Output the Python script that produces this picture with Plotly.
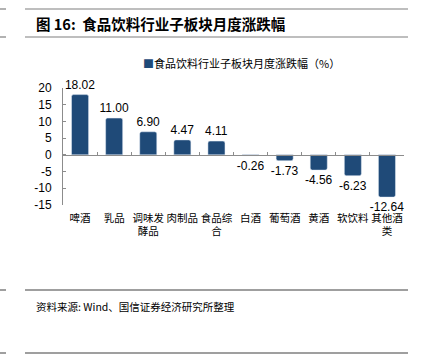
import plotly.graph_objects as go

categories = ["啤酒", "乳品", "调味发酵品", "肉制品", "食品综合", "白酒", "葡萄酒", "黄酒", "软饮料", "其他酒类"]
tick_labels = ["啤酒", "乳品", "调味发<br>酵品", "肉制品", "食品综<br>合", "白酒", "葡萄酒", "黄酒", "软饮料", "其他酒<br>类"]
values = [18.02, 11.00, 6.90, 4.47, 4.11, -0.26, -1.73, -4.56, -6.23, -12.64]
y_ticks = [20, 15, 10, 5, 0, -5, -10, -15]
y_tick_labels = ["20", "15", "10", "5", "0", "-5", "-10", "-15"]
series_name = "食品饮料行业子板块月度涨跌幅（%）"
title_text = "图 16:  食品饮料行业子板块月度涨跌幅"
source_text = "资料来源: Wind、国信证券经济研究所整理"

W, H = 425, 357
BAR = "#1F4A78"
CJK = "Noto Sans CJK SC"
NUM = "Liberation Sans, Arial, sans-serif"
y_min, y_max = -15, 20

fig = go.Figure()
fig.add_trace(go.Bar(
    x=categories, y=values, name=series_name,
    marker=dict(color=BAR, cornerradius=2),
    width=0.5,
    text=[f"{v:.2f}" for v in values],
    textposition="outside",
    textfont=dict(family=NUM, size=12, color="#000000"),
    cliponaxis=False,
    constraintext="none",
    showlegend=False,
))
# invisible trace carrying the zero-line axis with boundary ticks
fig.add_trace(go.Scatter(
    x=categories, y=[0] * len(categories), xaxis="x2", yaxis="y",
    mode="markers", marker=dict(opacity=0), hoverinfo="skip", showlegend=False,
))

L, R, T, B = 63, 21, 88, 152
PW, PH = W - L - R, H - T - B

def px(x):
    return (x - L) / PW

def py(y):
    return (H - y - B) / PH

fig.update_layout(
    width=W, height=H,
    margin=dict(l=L, r=R, t=T, b=B, pad=0),
    paper_bgcolor="white", plot_bgcolor="white",
    font=dict(family=CJK, size=11, color="#000000"),
    bargap=0.5,
    showlegend=False,
    xaxis=dict(
        type="category", tickmode="array", tickvals=categories, ticktext=tick_labels,
        tickangle=0, automargin=False, ticklabelstandoff=5,
        showline=False, ticks="", showgrid=False, zeroline=False,
        tickfont=dict(family=CJK, size=10.5, color="#000000"),
        range=[-0.5, len(categories) - 0.5],
    ),
    xaxis2=dict(
        type="category", overlaying="x", anchor="free",
        position=(0 - y_min) / (y_max - y_min),
        showline=True, linecolor="#8C8C8C", linewidth=1,
        ticks="inside", ticklen=3, tickcolor="#8C8C8C", tickson="boundaries",
        showticklabels=False, showgrid=False, zeroline=False, automargin=False,
        range=[-0.5, len(categories) - 0.5],
    ),
    yaxis=dict(
        range=[y_min, y_max], tickmode="array", tickvals=y_ticks, ticktext=y_tick_labels,
        showline=True, linecolor="#8C8C8C", linewidth=1,
        ticks="inside", ticklen=3, tickcolor="#8C8C8C",
        showgrid=False, zeroline=False, automargin=False,
        tickfont=dict(family=NUM, size=12, color="#000000"),
        ticklabelstandoff=8,
    ),
)

# legend drawn as a text item
fig.add_annotation(
    text=f'<span style="color:{BAR}">■</span>{series_name}',
    xref="paper", yref="paper", x=px(141), y=py(63),
    xanchor="left", yanchor="middle", showarrow=False,
    font=dict(family=CJK, size=11, color="#000000"),
)

# page decorations: rules, title, source
line_col = "#7F7F7F"
for yy, w in [(9, 1.2), (37, 1.2), (290, 1.5), (353, 1.5)]:
    fig.add_shape(type="line", xref="paper", yref="paper",
                  x0=px(25), x1=px(408), y0=py(yy), y1=py(yy),
                  line=dict(color=line_col, width=w))
    fig.add_shape(type="line", xref="paper", yref="paper",
                  x0=px(0), x1=px(6), y0=py(yy), y1=py(yy),
                  line=dict(color=line_col, width=w))

fig.add_annotation(text="<b>" + title_text + "</b>", xref="paper", yref="paper",
                   x=px(34), y=py(23), xanchor="left", yanchor="middle", showarrow=False,
                   font=dict(family=CJK, size=14.5, color="#000000"))
fig.add_annotation(text=source_text, xref="paper", yref="paper",
                   x=px(34), y=py(306), xanchor="left", yanchor="middle", showarrow=False,
                   font=dict(family=CJK, size=10.5, color="#000000"))

fig.write_html("out.html", config={"displayModeBar": False},
               post_script="document.body.style.margin='0';")
